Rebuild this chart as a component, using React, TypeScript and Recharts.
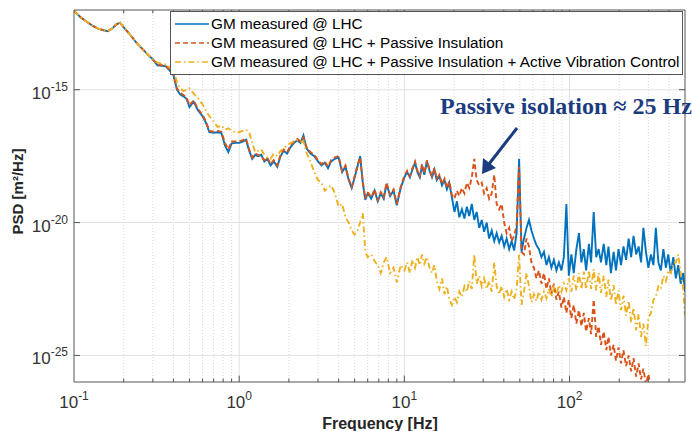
import { LineChart, Line, XAxis, YAxis, ReferenceLine } from 'recharts';

// frequency grid [Hz]
const freq = [
  0.1, 0.11, 0.12, 0.13, 0.14, 0.15, 0.16, 0.17, 0.18, 0.19,
  0.2, 0.22, 0.24, 0.26, 0.28, 0.3, 0.32, 0.34, 0.36, 0.38,
  0.4, 0.42, 0.44, 0.46, 0.48, 0.5, 0.53, 0.56, 0.6, 0.63,
  0.66, 0.7, 0.74, 0.78, 0.82, 0.86, 0.9, 0.95,
  1, 1.05, 1.1, 1.15, 1.2, 1.25, 1.3, 1.36, 1.42, 1.48,
  1.55, 1.62, 1.7, 1.78, 1.86, 1.95, 2.05, 2.15, 2.25, 2.35,
  2.45, 2.55, 2.7, 2.85, 3, 3.15, 3.3, 3.45, 3.6, 3.8,
  4, 4.2, 4.4, 4.6, 4.8, 5, 5.2, 5.4, 5.6, 5.8,
  6, 6.3, 6.6, 6.9, 7.2, 7.5, 7.8, 8.2, 8.6, 9,
  9.5,
  10, 10.4, 10.8, 11.2, 11.6, 12, 12.4, 12.8, 13.2, 13.7,
  14.2, 14.7, 15.2, 15.7, 16.3, 16.9, 17.5, 18.1, 18.7, 19.4,
  20.1, 20.8, 21.5, 22.3, 23.1, 23.9, 24.7, 25.6, 26.5, 27.4,
  28.4, 29.4, 30.4, 31.5, 32.6, 33.8, 35, 36.2, 37.5, 38.8,
  40.2, 41.6, 43.1, 44.6, 46.2, 47.8, 49.5, 51.2, 53, 54.9,
  56.8, 58.8, 60.9, 63, 65.3, 67.6, 70, 72.5, 75, 77.7,
  80.4, 83.3, 86.2, 89.3, 92.4, 95.7,
  99, 102.6, 106, 110, 114, 118, 122, 126, 131, 135,
  140, 145, 150, 155, 161, 167, 172, 178, 185, 191,
  198, 205, 212, 220, 228, 236, 244, 253, 262, 271,
  280, 290, 300, 311, 322, 333, 345, 357, 370, 383,
  396, 410, 425, 440, 455, 471, 488, 500,
];

// log10 of PSD [m^2/Hz]
const psdMeasured = [
  -12.04, -12.28, -12.45, -12.6, -12.7, -12.76, -12.8, -12.7, -12.55, -12.48,
  -12.65, -12.95, -13.25, -13.47, -13.68, -13.86, -14.08, -14.1, -14.12, -14.28,
  -14.45, -15.0, -15.18, -15.25, -15.34, -15.65, -15.45, -15.75, -16.0, -16.25,
  -16.6, -16.62, -16.6, -16.62, -17.1, -17.35, -17.02, -17.0,
  -17.0, -16.95, -16.88, -17.3, -17.6, -17.45, -17.5, -17.45, -17.7, -17.6,
  -17.85, -17.7, -17.9, -17.5, -17.3, -17.4, -17.15, -17.0, -16.9, -17.0,
  -16.72, -17.2, -17.4, -17.5, -17.7, -17.85, -17.75, -17.95, -17.7, -17.6,
  -17.55, -18.1, -17.9, -18.4, -18.7, -18.3, -17.9, -17.5, -18.5, -19.15,
  -18.9, -19.1, -18.8, -19.2, -18.9, -19.1, -18.55, -19.0, -18.8, -19.35,
  -18.7,
  -18.3, -18.1, -18.3, -18.0, -17.75, -18.1, -18.3, -17.85, -18.2, -17.7,
  -18.05, -18.3, -18.0, -18.4, -18.25, -18.6, -18.4, -18.75, -18.5, -19.05,
  -19.6, -19.2, -19.8, -19.5, -19.85, -19.4, -19.75, -19.3, -19.9, -19.6,
  -20.2, -19.9, -20.35, -20.0, -20.6, -20.3, -20.7, -20.4, -20.75, -20.5,
  -20.9, -20.6, -21.0, -20.7, -21.05, -20.4, -17.6, -21.1, -20.6, -20.2,
  -19.9, -20.3, -20.6, -20.85, -21.0, -21.3, -21.1, -21.6, -21.3, -21.7,
  -21.4, -21.8, -21.5, -21.8, -21.3, -19.3,
  -22.0, -21.2, -21.9, -21.0, -20.4, -21.5, -21.0, -21.8, -20.8, -21.5,
  -19.6, -21.3, -21.0, -21.5, -20.8, -21.6, -20.9, -21.9, -21.1, -21.8,
  -21.0, -21.6, -20.9, -21.4, -20.6, -21.3, -20.5, -21.2, -20.9, -21.5,
  -20.2, -21.1, -21.7, -21.2, -21.6, -20.2, -21.5, -21.8, -21.0, -21.7,
  -21.2, -21.9, -21.3, -22.1, -21.6, -22.3, -21.9, -22.6,
];

const psdPassive = [
  -12.04, -12.28, -12.45, -12.6, -12.7, -12.76, -12.8, -12.7, -12.55, -12.48,
  -12.65, -12.95, -13.25, -13.47, -13.68, -13.86, -14.06, -14.08, -14.1, -14.26,
  -14.42, -14.95, -15.12, -15.2, -15.3, -15.58, -15.4, -15.7, -15.95, -16.2,
  -16.55, -16.58, -16.55, -16.58, -17.0, -17.25, -16.95, -16.95,
  -16.95, -16.9, -16.85, -17.25, -17.55, -17.4, -17.45, -17.5, -17.65, -17.55,
  -17.8, -17.65, -17.85, -17.45, -17.25, -17.35, -17.1, -16.95, -16.85, -16.95,
  -16.8, -17.15, -17.35, -17.45, -17.65, -17.8, -17.7, -17.9, -17.65, -17.55,
  -17.5, -18.05, -17.85, -18.35, -18.65, -18.25, -17.85, -17.55, -18.45, -19.1,
  -18.85, -19.05, -18.75, -19.15, -18.85, -19.05, -18.5, -18.95, -18.75, -19.3,
  -18.65,
  -18.25, -18.05, -18.25, -17.95, -17.7, -18.05, -18.25, -17.8, -18.15, -17.65,
  -18.0, -18.25, -17.95, -18.35, -18.2, -18.55, -18.35, -18.7, -18.45, -18.95,
  -19.1, -18.8, -19.0, -18.7, -18.9, -18.5, -18.7, -18.3, -17.6, -18.4,
  -18.6, -18.5, -18.9, -18.7, -19.1, -18.9, -18.2, -19.3, -19.5, -19.3,
  -20.0, -20.4, -20.2, -20.7, -20.5, -20.1, -17.9, -21.1, -21.2, -20.6,
  -20.9, -21.5, -21.7, -22.1, -21.8, -22.3, -21.9, -22.5, -22.1, -22.7,
  -22.3, -22.9, -22.6, -23.2, -22.8, -23.4,
  -22.9, -23.6, -23.1, -23.8, -23.3, -23.9, -23.4, -24.1, -23.6, -24.2,
  -22.9, -24.3, -23.9, -24.6, -24.1, -24.8, -24.3, -25.0, -24.6, -25.2,
  -24.7, -25.3, -24.8, -25.4, -25.0, -25.6, -25.1, -25.8, -25.3, -25.9,
  -25.5, -26.1, -25.7, -26.3, -26.0, -26.6, null, null, null, null,
  null, null, null, null, null, null, null, null,
];

const psdActive = [
  -12.04, -12.28, -12.45, -12.6, -12.7, -12.76, -12.8, -12.7, -12.55, -12.48,
  -12.65, -12.95, -13.25, -13.47, -13.68, -13.84, -13.98, -14.02, -14.05, -14.15,
  -14.28, -14.7, -14.95, -15.05, -15.0, -14.95, -15.15, -15.3, -15.55, -15.8,
  -16.0, -16.2, -16.4, -16.35, -16.5, -16.45, -16.55, -16.6,
  -16.6, -16.55, -16.5, -16.6, -17.0, -17.35, -17.3, -17.25, -17.45, -17.55,
  -17.6, -17.4, -17.5, -17.3, -17.2, -17.1, -17.0, -16.95, -16.9, -16.95,
  -16.95, -17.35, -17.7, -18.1, -18.4, -18.5, -18.8, -18.7, -18.6, -18.9,
  -19.4, -19.3, -19.8, -20.0, -20.3, -20.45, -20.3, -20.0, -19.65, -21.1,
  -21.3, -21.2, -21.45, -21.6, -21.9, -21.5, -21.3, -21.9, -21.7, -22.25,
  -21.6,
  -21.8, -21.5, -21.9, -21.4, -21.7, -21.3, -21.6, -21.2, -21.55, -21.3,
  -21.7, -21.9, -21.6, -22.2, -22.5, -22.1, -22.7, -22.4, -22.9, -23.1,
  -22.8, -23.0, -22.6, -22.8, -22.4, -22.6, -22.2, -22.5, -21.2, -22.3,
  -22.0, -22.4, -22.1, -22.5, -22.2, -22.6, -21.5, -22.4, -22.7, -22.4,
  -22.8, -22.5, -22.9, -22.6, -22.9, -22.5, -21.2, -23.1, -22.6, -21.9,
  -22.4, -23.0, -22.7, -22.95, -22.6, -22.9, -22.6, -22.85, -22.5, -22.8,
  -22.45, -22.7, -22.35, -22.6, -22.3, -22.55,
  -22.1, -22.6, -22.0, -22.55, -21.9, -22.5, -21.85, -22.5, -21.8, -22.5,
  -21.75, -22.55, -21.9, -22.65, -22.0, -22.8, -22.15, -22.95, -22.35, -23.1,
  -22.55, -23.3, -22.75, -23.5, -22.95, -23.75, -23.2, -24.05, -23.45, -24.3,
  -23.8, -24.65, -23.6, -23.4, -22.9, -22.8, -22.4, -22.5, -22.0, -22.2,
  -21.8, -21.9, -21.5, -21.5, -21.2, -21.9, -22.5, -23.5,
];

const xMajorTicks = [0.1, 1, 10, 100];
const xMinorTicks = [
  0.2, 0.3, 0.4, 0.5, 0.6, 0.7, 0.8, 0.9,
  2, 3, 4, 5, 6, 7, 8, 9,
  20, 30, 40, 50, 60, 70, 80, 90,
  200, 300, 400,
];
const yTicks = [-25, -20, -15];

const legendItems = [
  { name: 'GM measured @ LHC', color: '#0072BD', dash: undefined },
  { name: 'GM measured @ LHC + Passive Insulation', color: '#D95319', dash: '5 3' },
  { name: 'GM measured @ LHC + Passive Insulation + Active Vibration Control', color: '#EDB120', dash: '6 3 1.5 3' },
];

const data = freq.map((f, i) => ({
  f,
  measured: psdMeasured[i],
  passive: psdPassive[i],
  active: psdActive[i],
}));

const X_MIN = 0.1;
const X_MAX = 500;
const Y_MIN = -26;
const Y_MAX = -12;
const FONT = '"Liberation Sans", Arial, Helvetica, sans-serif';
const AXIS_COLOR = '#555';
const LINE_W = 1.9;

const XTick = (props: any) => {
  const { x, y, payload } = props;
  const exp = Math.round(Math.log10(payload.value));
  return (
    <text x={x} y={y + 18} textAnchor="middle" fill="#333" fontSize={17} fontFamily={FONT}>
      <tspan>10</tspan>
      <tspan dy={-8} fontSize={12}>{exp}</tspan>
    </text>
  );
};

const YTick = (props: any) => {
  const { x, y, payload } = props;
  return (
    <text x={x + 2} y={y + 9} textAnchor="end" fill="#333" fontSize={17} fontFamily={FONT}>
      <tspan>10</tspan>
      <tspan dy={-8} fontSize={12}>{payload.value}</tspan>
    </text>
  );
};

const App = () => {
  return (
    <div style={{ position: 'absolute', left: 0, top: 0, width: 692, height: 431, background: '#fff', overflow: 'hidden' }}>
      <LineChart
        width={692}
        height={431}
        data={data}
        margin={{ top: 10, right: 7, bottom: 19, left: 14 }}
      >
        {/* grid */}
        {xMinorTicks.map((v) => (
          <ReferenceLine key={'gx' + v} x={v} stroke="#d6d6d6" strokeDasharray="1 2" ifOverflow="visible" />
        ))}
        {xMajorTicks.slice(1).map((v) => (
          <ReferenceLine key={'gX' + v} x={v} stroke="#e2e2e2" ifOverflow="visible" />
        ))}
        {yTicks.map((v) => (
          <ReferenceLine key={'gy' + v} y={v} stroke="#e2e2e2" ifOverflow="visible" />
        ))}

        <XAxis
          dataKey="f"
          type="number"
          scale="log"
          domain={[X_MIN, X_MAX]}
          allowDataOverflow
          ticks={xMajorTicks}
          tick={<XTick />}
          tickLine={false}
          tickSize={6}
          tickMargin={2}
          height={30}
          axisLine={{ stroke: AXIS_COLOR }}
        />
        <YAxis
          type="number"
          domain={[Y_MIN, Y_MAX]}
          allowDataOverflow
          ticks={yTicks}
          tick={<YTick />}
          tickLine={false}
          tickSize={6}
          tickMargin={2}
          width={60}
          axisLine={{ stroke: AXIS_COLOR }}
        />

        <Line
          type="linear"
          dataKey="measured"
          name={legendItems[0].name}
          stroke={legendItems[0].color}
          strokeWidth={LINE_W}
          dot={false}
          isAnimationActive={false}
        />
        <Line
          type="linear"
          dataKey="passive"
          name={legendItems[1].name}
          stroke={legendItems[1].color}
          strokeWidth={LINE_W}
          strokeDasharray={legendItems[1].dash}
          dot={false}
          connectNulls={false}
          isAnimationActive={false}
        />
        <Line
          type="linear"
          dataKey="active"
          name={legendItems[2].name}
          stroke={legendItems[2].color}
          strokeWidth={LINE_W}
          strokeDasharray={legendItems[2].dash}
          dot={false}
          isAnimationActive={false}
        />

        {/* box: top and right edges */}
        <ReferenceLine y={Y_MAX} stroke={AXIS_COLOR} ifOverflow="visible" />
        <ReferenceLine x={X_MAX} stroke={AXIS_COLOR} ifOverflow="visible" />

        {/* inward tick marks */}
        {xMajorTicks.slice(1).map((v) => (
          <ReferenceLine key={'tb' + v} segment={[{ x: v, y: Y_MIN }, { x: v, y: Y_MIN + 0.24 }]} stroke={AXIS_COLOR} ifOverflow="visible" />
        ))}
        {xMajorTicks.slice(1).map((v) => (
          <ReferenceLine key={'tt' + v} segment={[{ x: v, y: Y_MAX }, { x: v, y: Y_MAX - 0.24 }]} stroke={AXIS_COLOR} ifOverflow="visible" />
        ))}
        {xMinorTicks.map((v) => (
          <ReferenceLine key={'mb' + v} segment={[{ x: v, y: Y_MIN }, { x: v, y: Y_MIN + 0.13 }]} stroke={AXIS_COLOR} ifOverflow="visible" />
        ))}
        {xMinorTicks.map((v) => (
          <ReferenceLine key={'mt' + v} segment={[{ x: v, y: Y_MAX }, { x: v, y: Y_MAX - 0.13 }]} stroke={AXIS_COLOR} ifOverflow="visible" />
        ))}
        {yTicks.map((v) => (
          <ReferenceLine key={'tl' + v} segment={[{ x: X_MIN, y: v }, { x: X_MIN * 1.087, y: v }]} stroke={AXIS_COLOR} ifOverflow="visible" />
        ))}
        {yTicks.map((v) => (
          <ReferenceLine key={'tr' + v} segment={[{ x: X_MAX, y: v }, { x: X_MAX / 1.087, y: v }]} stroke={AXIS_COLOR} ifOverflow="visible" />
        ))}
      </LineChart>

      <svg width={692} height={431} style={{ position: 'absolute', left: 0, top: 0, pointerEvents: 'none' }}>
        {/* legend */}
        <rect x={170.5} y={11.5} width={512} height={63} fill="#fff" stroke="#555" strokeWidth={1} />
        {legendItems.map((item, i) => (
          <g key={item.name}>
            <line
              x1={175}
              x2={209}
              y1={24 + i * 19}
              y2={24 + i * 19}
              stroke={item.color}
              strokeWidth={1.6}
              strokeDasharray={item.dash}
            />
            <text x={211} y={29 + i * 19} fontSize={15.3} fill="#000" fontFamily={FONT}>
              {item.name}
            </text>
          </g>
        ))}

        {/* axis labels */}
        <text x={380} y={429} textAnchor="middle" fontSize={16} fontWeight="bold" fill="#262626" fontFamily={FONT}>
          Frequency [Hz]
        </text>
        <text
          transform="translate(23,191.5) rotate(-90)"
          textAnchor="middle"
          fontSize={15}
          fontWeight="bold"
          fill="#262626"
          fontFamily={FONT}
        >
          PSD [m²/Hz]
        </text>

        {/* annotation */}
        <text x={440} y={114} fontSize={24} fontWeight="bold" fill="#1c3c80" fontFamily='"Liberation Serif", "Times New Roman", serif'>
          Passive isolation ≈ 25 Hz
        </text>
        <line x1={517} y1={128} x2={489} y2={164} stroke="#1c3c80" strokeWidth={3} />
        <polygon points="482,174 483,158 496,168" fill="#1c3c80" />
      </svg>
    </div>
  );
};

export default App;
